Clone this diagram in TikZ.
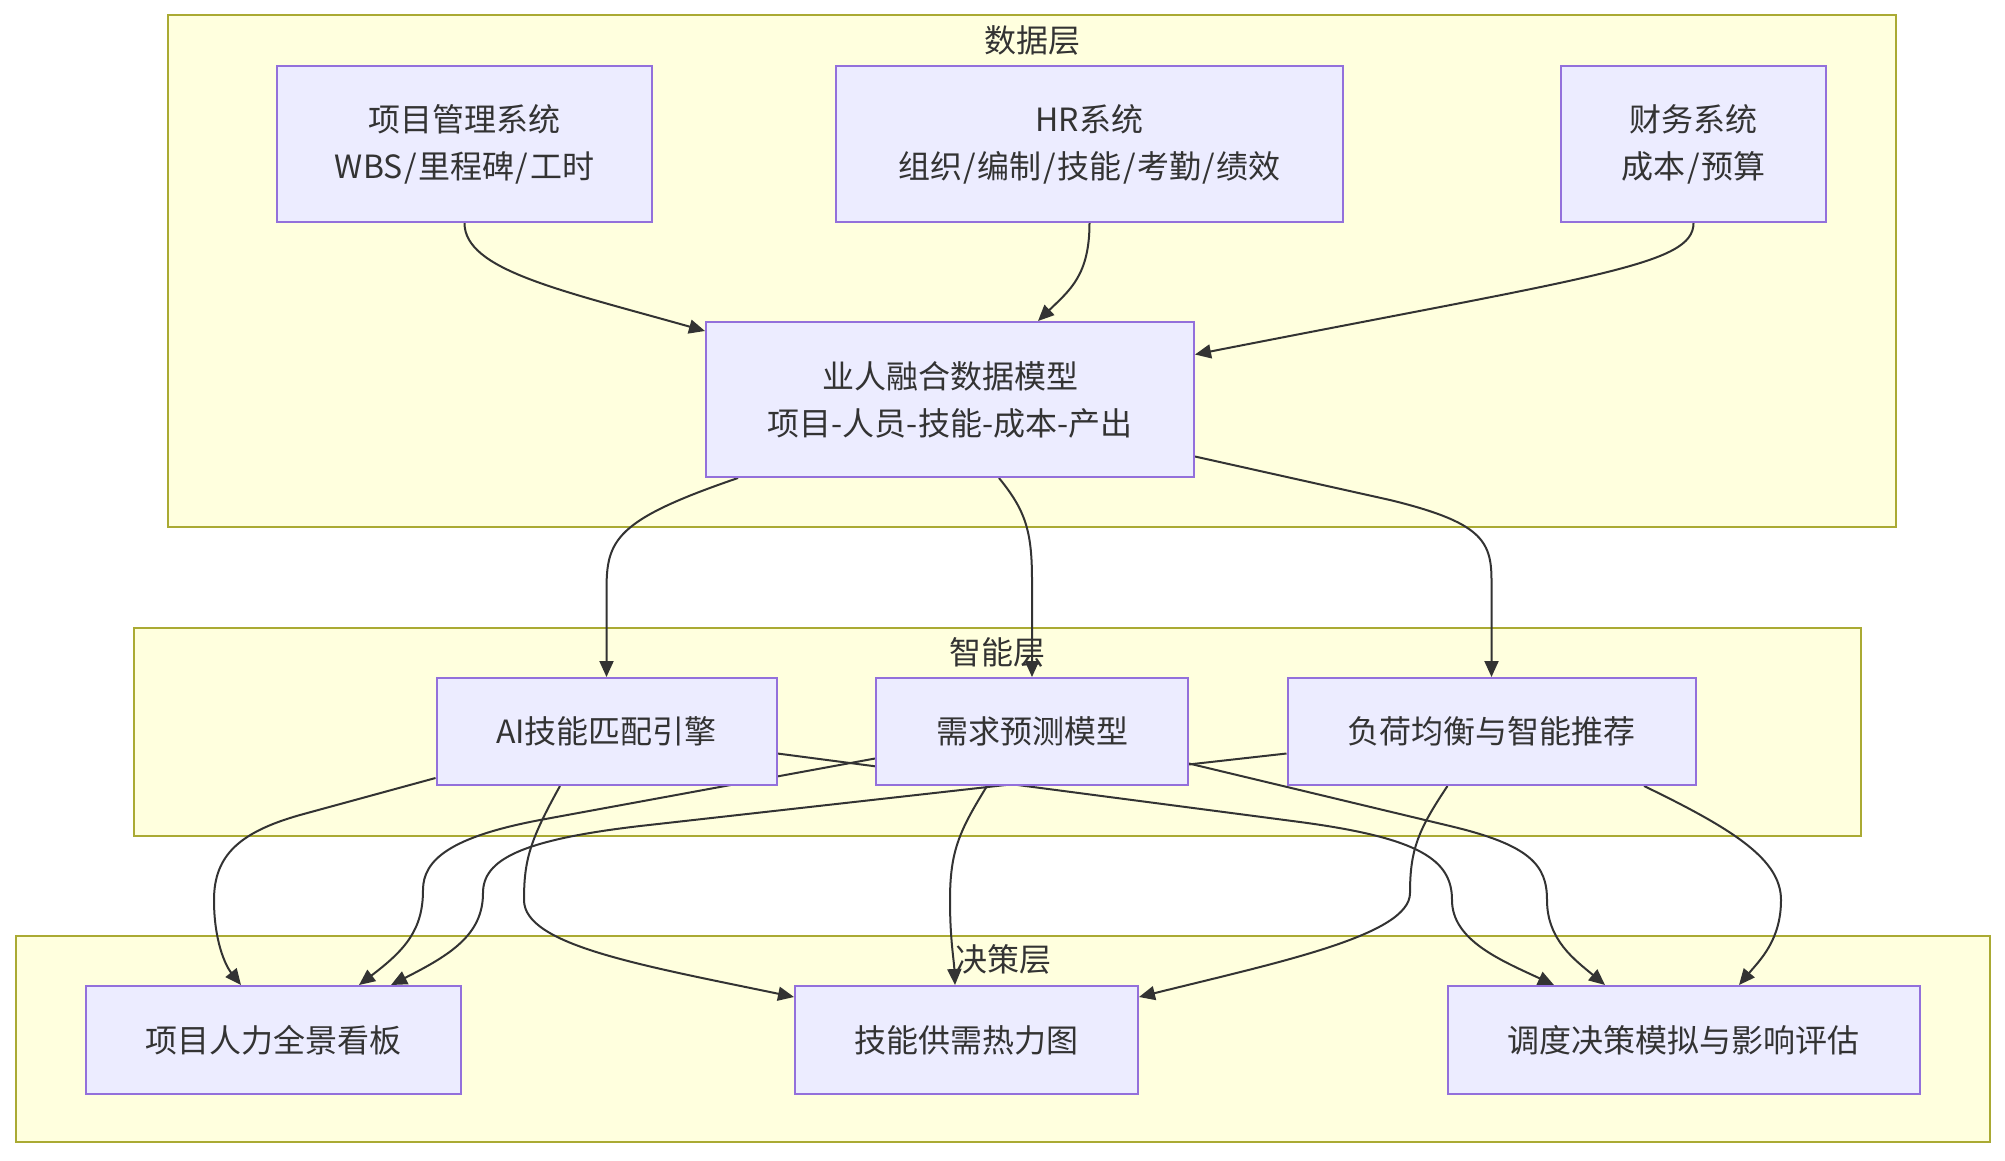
\documentclass[tikz,border=0pt]{standalone}
\usepackage{fontspec}
\setmainfont{Noto Sans CJK SC}
\usetikzlibrary{arrows.meta,calc}

\definecolor{clfill}{HTML}{FFFFDE}
\definecolor{clline}{HTML}{AAAA33}
\definecolor{ndfill}{HTML}{ECECFF}
\definecolor{ndline}{HTML}{9370DB}
\definecolor{txt}{HTML}{333333}

\newcommand{\slh}{\kern1.6pt/\kern1.6pt}

\pgfdeclarelayer{bg}
\pgfdeclarelayer{edges}
\pgfsetlayers{bg,edges,main}

\begin{document}
\begin{tikzpicture}[x=1pt,y=-1pt,
  box/.style={draw=ndline,fill=ndfill,line width=2pt,inner sep=0pt,align=center,text=txt,font=\fontsize{32}{47}\selectfont},
  cluster/.style={draw=clline,fill=clfill,line width=2pt},
  ctitle/.style={text=txt,font=\fontsize{32}{40}\selectfont,inner sep=0pt},
  link/.style={draw=txt,line width=2pt,-{Triangle[length=16pt,width=14pt]}},
]
\useasboundingbox (0,0) rectangle (2005,1160);

% nodes
\node[box, minimum width=375pt, minimum height=156pt] (pm) at (464.5,144) {项目管理系统\\WBS\slh 里程碑\slh 工时};
\node[box, minimum width=507pt, minimum height=156pt] (hr) at (1089.5,144) {HR系统\\组织\slh 编制\slh 技能\slh 考勤\slh 绩效};
\node[box, minimum width=265pt, minimum height=156pt] (fin) at (1693.5,144) {财务系统\\成本\slh 预算};
\node[box, minimum width=488pt, minimum height=155pt] (model) at (950,399.5) {业人融合数据模型\\项目-人员-技能-成本-产出};

\node[box, minimum width=340pt, minimum height=107pt] (ai) at (606.5,731.5) {AI技能匹配引擎};
\node[box, minimum width=312pt, minimum height=107pt] (demand) at (1032,731.5) {需求预测模型};
\node[box, minimum width=408pt, minimum height=107pt] (load) at (1491.5,731.5) {负荷均衡与智能推荐};

\node[box, minimum width=375pt, minimum height=108pt] (dash) at (273.5,1040) {项目人力全景看板};
\node[box, minimum width=343pt, minimum height=108pt] (heat) at (966.5,1040) {技能供需热力图};
\node[box, minimum width=472.5pt, minimum height=108pt] (sched) at (1683.75,1040) {调度决策模拟与影响评估};

% clusters
\begin{pgfonlayer}{bg}
\fill[white] (0,0) rectangle (2005,1160);
\draw[cluster] (167.5,15) rectangle (1896,527);
\node[ctitle] (t1) at (1032,40) {数据层};
\draw[cluster] (134,628) rectangle (1861,836);
\node[ctitle] (t2) at (997.5,652) {智能层};
\draw[cluster] (16,936) rectangle (1990,1142);
\node[ctitle] (t3) at (1003,959) {决策层};
\end{pgfonlayer}

% edges
\begin{pgfonlayer}{edges}
\draw[link] (pm.south) .. controls (464.5,270) and (560,290) .. ($(model.north west)+(0,10)$);
\draw[link] (hr.south) .. controls (1089.5,275) and (1070,290) .. ($(model.north)+(88,0)$);
\draw[link] (fin.south) .. controls (1693.5,265) and (1600,275) .. ($(model.north east)+(0,33.5)$);

\draw[link] ($(model.south west)+(33,0)$) .. controls (615,520) and (606.5,540) .. (606.5,590) -- (ai.north);
\draw[link] ($(model.south west)+(294,0)$) .. controls (1025,510) and (1032,530) .. (1032,580) -- (demand.north);
\draw[link] ($(model.east)+(0,57)$) -- (1390,500) .. controls (1480,522) and (1491.5,540) .. (1491.5,580) -- (load.north);

% ai
\draw[link] ($(ai.south west)+(0,-8)$) -- (300,815) .. controls (240,832) and (214,855) .. (214,900) .. controls (214,940) and (225,965) .. ($(dash.north west)+(156,0)$);
\draw[link] ($(ai.south west)+(124.5,0)$) .. controls (530,840) and (524,860) .. (524,900) .. controls (524,945) and (640,965) .. ($(heat.north west)+(0,12)$);
\draw[link] ($(ai.east)+(0,22)$) -- (1300,822) .. controls (1420,838) and (1452,860) .. (1452,900) .. controls (1452,940) and (1500,960) .. ($(sched.north west)+(107.5,0)$);

% demand
\draw[link] ($(demand.west)+(0,27)$) -- (540,820) .. controls (450,837) and (423,860) .. (423,890) .. controls (423,930) and (405,950) .. ($(dash.north west)+(274,0)$);
\draw[link] ($(demand.south west)+(112,0)$) .. controls (960,830) and (950,850) .. (950,900) .. controls (950,940) and (954,960) .. ($(heat.north)+(-11.5,0)$);
\draw[link] ($(demand.east)+(0,32)$) -- (1450,826) .. controls (1530,845) and (1547,865) .. (1547,900) .. controls (1547,940) and (1575,960) .. ($(sched.north west)+(158.5,0)$);

% load
\draw[link] ($(load.west)+(0,22)$) -- (640,826) .. controls (520,840) and (483,860) .. (483,893) .. controls (483,935) and (450,955) .. ($(dash.north west)+(306,0)$);
\draw[link] ($(load.south west)+(161,0)$) .. controls (1418,830) and (1410,850) .. (1410,893) .. controls (1410,935) and (1280,962) .. ($(heat.north east)+(0,12)$);
\draw[link] ($(load.south east)+(-52.5,0)$) .. controls (1735,830) and (1781,860) .. (1781,900) .. controls (1781,940) and (1760,960) .. ($(sched.north west)+(292.5,0)$);
\end{pgfonlayer}
\end{tikzpicture}
\end{document}
